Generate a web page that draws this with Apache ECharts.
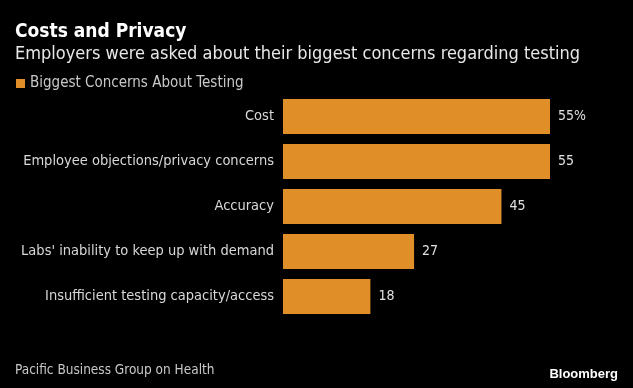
<!DOCTYPE html>
<html><head><meta charset="utf-8">
<script src="https://cdn.jsdelivr.net/npm/echarts@6/dist/echarts.min.js"></script>
<style>html,body{margin:0;padding:0;background:#000}#c{width:633px;height:388px}</style>
</head><body><div id="c"></div>
<script>
const categories = ["Cost", "Employee objections/privacy concerns", "Accuracy", "Labs' inability to keep up with demand", "Insufficient testing capacity/access"];
const values = [55, 55, 45, 27, 18];
const seriesName = "Biggest Concerns About Testing";
const FONT = "'DejaVu Sans Condensed', 'Liberation Sans Narrow', sans-serif";
const chart = echarts.init(document.getElementById('c'), null, {renderer: 'canvas'});
chart.setOption({
  backgroundColor: '#000',
  animation: false,
  title: [{
    text: 'Costs and Privacy',
    left: 10, top: 18,
    textStyle: {color: '#fff', fontSize: 19, fontWeight: 'bold', fontFamily: FONT}
  }, {
    text: 'Employers were asked about their biggest concerns regarding testing',
    left: 10, top: 40,
    textStyle: {color: '#e8e8e8', fontSize: 18, fontWeight: 'normal', fontFamily: FONT}
  }, {
    text: 'Pacific Business Group on Health',
    left: 10, top: 358,
    textStyle: {color: '#c8c8c8', fontSize: 13.5, fontWeight: 'normal', fontFamily: FONT}
  }, {
    text: 'Bloomberg',
    right: 10, top: 363,
    textStyle: {color: '#fff', fontSize: 13, fontWeight: 'bold', fontFamily: "'Liberation Sans', sans-serif"}
  }],
  legend: {
    left: 11, top: 71,
    itemWidth: 9, itemHeight: 9, icon: 'rect',
    textStyle: {color: '#c8c8c8', fontSize: 15, fontFamily: FONT},
    data: [seriesName]
  },
  grid: {left: 283, right: 83, top: 94, bottom: 69, containLabel: false},
  xAxis: {type: 'value', min: 0, max: 55, show: false},
  yAxis: {
    type: 'category', data: categories, inverse: true,
    axisLine: {show: false}, axisTick: {show: false},
    axisLabel: {color: '#d8d8d8', fontSize: 14.5, margin: 9, fontFamily: FONT}
  },
  series: [{
    name: seriesName, type: 'bar', data: values,
    barCategoryGap: '22%',
    itemStyle: {color: '#E08E28'},
    label: {show: true, position: 'right', distance: 8, color: '#e0e0e0', fontSize: 14, fontFamily: FONT,
      formatter: p => p.dataIndex === 0 ? p.value + '%' : String(p.value)}
  }]
});
</script></body></html>
